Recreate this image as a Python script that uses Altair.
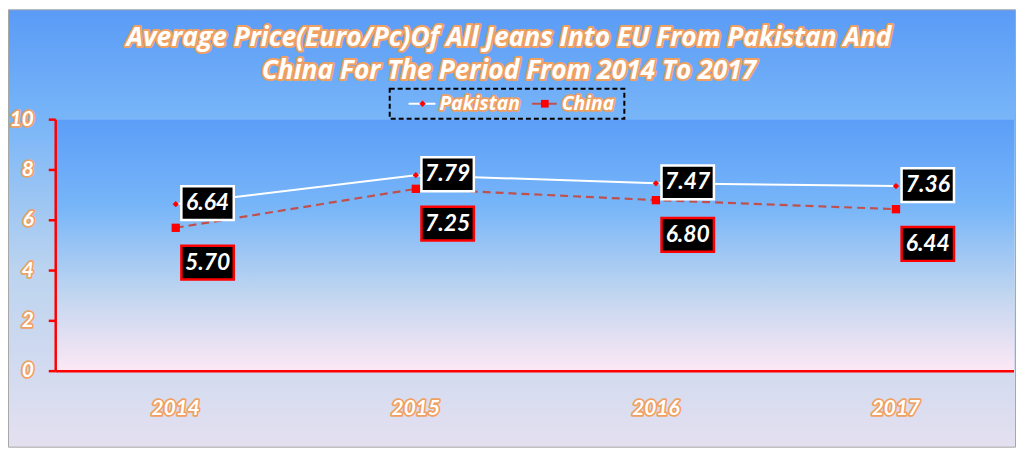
import altair as alt
import pandas as pd

years = ["2014", "2015", "2016", "2017"]
pakistan = [6.64, 7.79, 7.47, 7.36]
china = [5.70, 7.25, 6.80, 6.44]
series_names = ["Pakistan", "China"]
y_ticks = [0, 2, 4, 6, 8, 10]
title_lines = ["Average Price(Euro/Pc)Of All Jeans Into EU From Pakistan And",
               "China For The Period From 2014 To 2017"]

W, H = 966, 253
PL, PT, PB = 48, 111, 77
FONT = "Lato"
TFONT = "Open Sans"
OUTLINE = "#f0a060"

df = pd.DataFrame({
    "year": years * 2,
    "value": pakistan + china,
    "series": [series_names[0]] * 4 + [series_names[1]] * 4,
})
df["label"] = df["value"].map(lambda v: f"{v:.2f}")
pk = df[df.series == series_names[0]]
cn = df[df.series == series_names[1]]

xs = alt.Scale(type="point", domain=years, padding=0.5)
ys = alt.Scale(domain=[0, 10])
X = alt.X("year:N", scale=xs, axis=None)
Y = alt.Y("value:Q", scale=ys, axis=None)

one = pd.DataFrame({"a": [0]})

outer_bg = alt.Chart(one).mark_rect(
    color=alt.LinearGradient(gradient="linear", x1=0, y1=0, x2=0, y2=1, stops=[
        alt.GradientStop(color="#5a9bf6", offset=0),
        alt.GradientStop(color="#78b5f8", offset=0.25),
        alt.GradientStop(color="#bcd4ef", offset=0.6),
        alt.GradientStop(color="#e4e0f0", offset=1)]),
    stroke="#a6a6a6", strokeWidth=1,
).encode(x=alt.value(-PL + 0.5), x2=alt.value(W - 0.5), y=alt.value(-PT + 0.5), y2=alt.value(H + PB - 0.5))

plot_bg = alt.Chart(one).mark_rect(
    color=alt.LinearGradient(gradient="linear", x1=0, y1=0, x2=0, y2=1, stops=[
        alt.GradientStop(color="#5c9ef8", offset=0),
        alt.GradientStop(color="#78b6f8", offset=0.35),
        alt.GradientStop(color="#c2d6f0", offset=0.7),
        alt.GradientStop(color="#fde8f5", offset=1)]),
).encode(x=alt.value(0), x2=alt.value(W - 2), y=alt.value(0), y2=alt.value(H))

# axes: red domain lines and ticks
ticks_df = pd.DataFrame({"value": y_ticks})
y_domain = alt.Chart(one).mark_rule(color="#ff0000", strokeWidth=2.5).encode(
    x=alt.value(0), y=alt.value(0), y2=alt.value(H))
y_tick_marks = alt.Chart(ticks_df).mark_rule(color="#ff0000", strokeWidth=2.5).encode(
    y=alt.Y("value:Q", scale=ys, axis=None), x=alt.value(-7), x2=alt.value(0))
x_domain = alt.Chart(one).mark_rule(color="#ff0000", strokeWidth=2.5).encode(
    x=alt.value(0), x2=alt.value(W - 2), y=alt.value(H))

def outlined_text(data, enc, size, font=FONT, sw=3.5, **kw):
    base = dict(font=font, fontSize=size, fontWeight="bold", fontStyle="italic", **kw)
    under = alt.Chart(data).mark_text(stroke=OUTLINE, strokeWidth=sw, fill=OUTLINE,
                                      strokeJoin="round", **base).encode(**enc)
    over = alt.Chart(data).mark_text(fill="#ffffff", **base).encode(**enc)
    return [under, over]

ylab = outlined_text(ticks_df,
                     dict(y=alt.Y("value:Q", scale=ys, axis=None), x=alt.value(-22), text="value:Q"),
                     21, align="right", baseline="middle")
xlab = outlined_text(pd.DataFrame({"year": years}),
                     dict(x=X, y=alt.value(H + 38), text="year:N"),
                     21, align="center", baseline="middle")
titles = []
for i, line in enumerate(title_lines):
    titles += outlined_text(pd.DataFrame({"t": [line]}),
                            dict(x=alt.value(456), y=alt.value(-82 + 33 * i), text="t:N"),
                            26.5, font=TFONT, sw=4, align="center", baseline="middle")

# series
pk_line = alt.Chart(pk).mark_line(color="#ffffff", strokeWidth=2).encode(x=X, y=Y)
cn_line = alt.Chart(cn).mark_line(color="#c0504d", strokeWidth=2.2, strokeDash=[8, 5]).encode(x=X, y=Y)
pk_pts = alt.Chart(pk).mark_point(shape="diamond", filled=True, color="#ff0000", size=40, opacity=1).encode(x=X, y=Y)
cn_pts = alt.Chart(cn).mark_point(shape="square", filled=True, color="#ff0000", size=70, opacity=1).encode(x=X, y=Y)

box = "M-1.55,-1H1.55V1H-1.55Z"
pk_box = alt.Chart(pk).mark_point(shape=box, size=1156, filled=True, fill="#000000", stroke="#ffffff",
                                  strokeWidth=2.5, opacity=1, fillOpacity=1, strokeOpacity=1,
                                  xOffset=32, yOffset=-1).encode(x=X, y=Y)
cn_box = alt.Chart(cn).mark_point(shape=box, size=1156, filled=True, fill="#000000", stroke="#ff0000",
                                  strokeWidth=2.5, opacity=1, fillOpacity=1, strokeOpacity=1,
                                  xOffset=32, yOffset=35).encode(x=X, y=Y)
pk_txt = alt.Chart(pk).mark_text(font=FONT, fontSize=23, fontWeight="bold", fontStyle="italic",
                                 color="#ffffff", dx=32, dy=-1, baseline="middle").encode(x=X, y=Y, text="label:N")
cn_txt = alt.Chart(cn).mark_text(font=FONT, fontSize=23, fontWeight="bold", fontStyle="italic",
                                 color="#ffffff", dx=32, dy=35, baseline="middle").encode(x=X, y=Y, text="label:N")

# legend
LX, LY = 336, -16
leg_box = alt.Chart(one).mark_rect(fill=None, stroke="#000000", strokeWidth=2, strokeDash=[5, 3]).encode(
    x=alt.value(LX), x2=alt.value(LX + 236), y=alt.value(LY - 15), y2=alt.value(LY + 15))
leg_l1 = alt.Chart(one).mark_rule(color="#ffffff", strokeWidth=2).encode(
    x=alt.value(LX + 19), x2=alt.value(LX + 46), y=alt.value(LY))
leg_p1 = alt.Chart(one).mark_point(shape="diamond", filled=True, color="#ff0000", size=40, opacity=1).encode(
    x=alt.value(LX + 33), y=alt.value(LY))
leg_l2 = alt.Chart(one).mark_rule(color="#c0504d", strokeWidth=2).encode(
    x=alt.value(LX + 143), x2=alt.value(LX + 168), y=alt.value(LY))
leg_p2 = alt.Chart(one).mark_point(shape="square", filled=True, color="#ff0000", size=60, opacity=1).encode(
    x=alt.value(LX + 156), y=alt.value(LY))
leg_t = []
leg_t += outlined_text(pd.DataFrame({"t": [series_names[0]]}),
                       dict(x=alt.value(LX + 50), y=alt.value(LY), text="t:N"), 19.5, font=TFONT,
                       align="left", baseline="middle")
leg_t += outlined_text(pd.DataFrame({"t": [series_names[1]]}),
                       dict(x=alt.value(LX + 173), y=alt.value(LY), text="t:N"), 19.5, font=TFONT,
                       align="left", baseline="middle")

chart = alt.layer(
    outer_bg, plot_bg, y_domain, y_tick_marks, x_domain, *ylab, *xlab, *titles,
    leg_box, leg_l1, leg_l2, leg_p1, leg_p2, *leg_t,
    pk_line, cn_line, pk_pts, cn_pts, pk_box, cn_box, pk_txt, cn_txt,
).properties(
    width=W, height=H,
    autosize=alt.AutoSizeParams(type="none"),
    padding={"left": PL, "top": PT, "right": 0, "bottom": PB},
).configure_view(strokeWidth=0).configure(background="#ffffff")

chart.save("out.html", embed_options={"renderer": "svg", "actions": False})
